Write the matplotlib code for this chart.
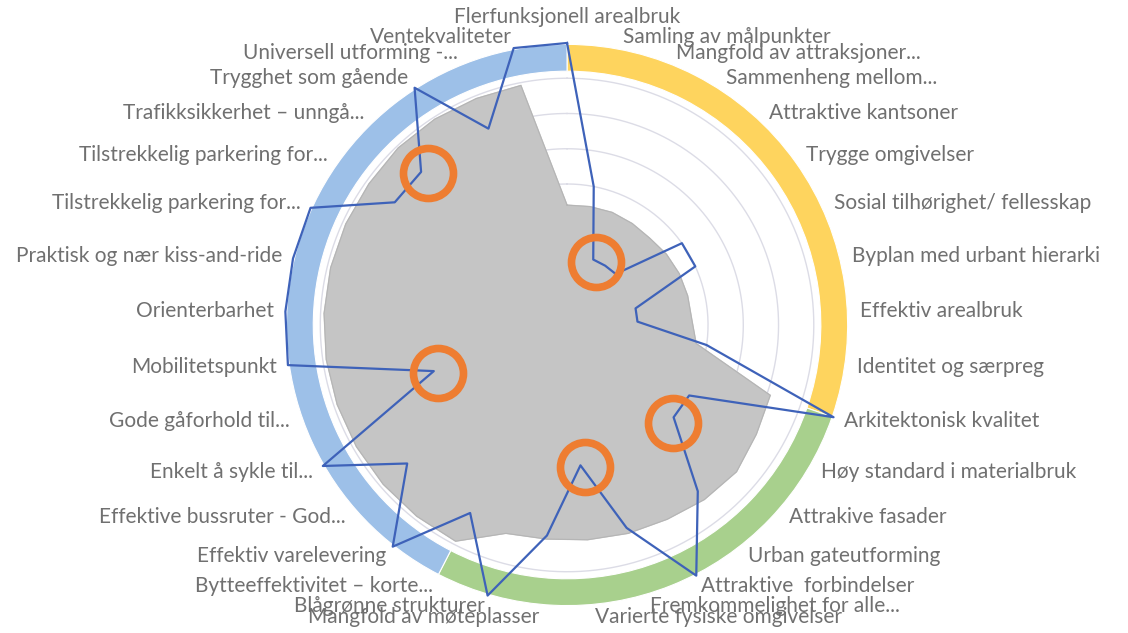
import numpy as np
import matplotlib.pyplot as plt

categories = [
    "Flerfunksjonell arealbruk", "Samling av målpunkter", "Mangfold av attraksjoner...",
    "Sammenheng mellom...", "Attraktive kantsoner", "Trygge omgivelser",
    "Sosial tilhørighet/ fellesskap", "Byplan med urbant hierarki", "Effektiv arealbruk",
    "Identitet og særpreg", "Arkitektonisk kvalitet", "Høy standard i materialbruk",
    "Attrakive fasader", "Urban gateutforming", "Attraktive  forbindelser",
    "Fremkommelighet for alle...", "Varierte fysiske omgivelser", "Mangfold av møteplasser",
    "Blågrønne strukturer", "Bytteeffektivitet – korte...", "Effektiv varelevering",
    "Effektive bussruter - God...", "Enkelt å sykle til...", "Gode gåforhold til...",
    "Mobilitetspunkt", "Orienterbarhet", "Praktisk og nær kiss-and-ride",
    "Tilstrekkelig parkering for...", "Tilstrekkelig parkering for...",
    "Trafikksikkerhet – unngå...", "Trygghet som gående", "Universell utforming -...",
    "Ventekvaliteter",
]

# outer ring: number of categories in each theme, and its colour
group_sizes = [10, 9, 14]
group_colors = ["#FED45E", "#A8D08D", "#9DC0E8"]

# grey area (average) and blue line (score)
gray_values = [1.70, 1.71, 1.72, 1.71, 1.70, 1.73, 1.75, 1.76, 1.77, 1.85,
               3.05, 3.10, 3.18, 3.15, 3.10, 3.08, 3.06, 3.05, 3.08,
               3.45, 3.45, 3.45, 3.45, 3.45, 3.45, 3.45, 3.45, 3.45, 3.45,
               3.47, 3.47, 3.46, 3.46]
blue_values = [4, 2, 1, 1, 1, 2, 2, 1, 1, 2,
               4, 2, 2, 3, 4, 3, 2, 3, 4,
               3, 4, 3, 4, 2, 4, 4, 4, 4, 3, 3, 4, 3, 4]

# orange highlight circles (category position, value)
circle_pos = [2.26, 12.17, 15.84, 22.88, 29.11]
circle_val = [0.98, 2.05, 2.03, 1.95, 2.92]

n = len(categories)
step = 2 * np.pi / n
theta = np.arange(n) * step

fig = plt.figure(figsize=(11.28, 6.33), dpi=100)
ax = fig.add_axes([0.2527, 0.0411, 0.5, 0.891], projection="polar")
ax.set_theta_zero_location("N")
ax.set_theta_direction(-1)
ax.set_ylim(0, 4)
ax.grid(False)
ax.set_xticks([])
ax.set_yticks([])
ax.spines["polar"].set_visible(False)
ax.patch.set_alpha(0)

# gridlines
circ = np.linspace(0, 2 * np.pi, 400)
for g in np.arange(0.5, 3.6, 0.5):
    ax.plot(circ, np.full_like(circ, g), color="#DCDCE6", lw=1, zorder=1)

# grey polygon
t_closed = np.append(theta, theta[0])
g_closed = np.append(gray_values, gray_values[0])
ax.fill(t_closed, g_closed, color="#C5C5C5", zorder=2)
ax.plot(t_closed, g_closed, color="#B5B5B5", lw=0.8, zorder=2)

# outer ring
start = 0
for size, col in zip(group_sizes, group_colors):
    ax.bar(start * step, 0.38, width=size * step, bottom=3.6, align="edge",
           color=col, edgecolor="white", lw=0.8, zorder=2)
    start += size

# blue line
b_closed = np.append(blue_values, blue_values[0])
ax.plot(t_closed, b_closed, color="#3E62B9", lw=1.6, zorder=3, clip_on=False)

# orange circles
ax.plot(np.array(circle_pos) * step, circle_val, "o", ms=36, mfc="none",
        mec="#EE7D31", mew=5.5, zorder=4, clip_on=False)

# category labels
for i, (t, lab) in enumerate(zip(theta, categories)):
    if i == 0:
        ax.text(t, 4.22, lab, ha="center", va="bottom", fontsize=15,
                color="#707070", family="Lato")
        continue
    ha = "left" if t < np.pi else "right"
    ax.text(t, 4.16, lab, ha=ha, va="center", fontsize=15,
            color="#707070", family="Lato")

fig.savefig("out.png", dpi=100)
